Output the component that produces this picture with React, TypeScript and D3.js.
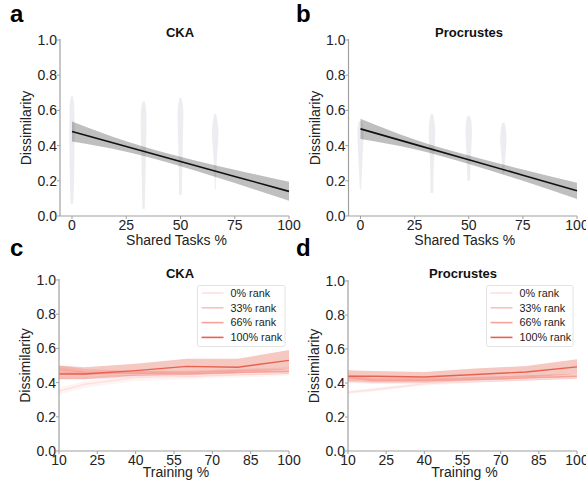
import React from "react";
import * as d3 from "d3";

// ---------- data ----------
const yTicks = [0, 0.2, 0.4, 0.6, 0.8, 1.0];
const sharedTicks = [0, 25, 50, 75, 100];
const trainTicks = [10, 25, 40, 55, 70, 85, 100];

const violinPositions = [0, 33, 50, 66];
// [value, relative density]
const ckaViolins: [number, number][][] = [
  [[0.07, 0.4], [0.2, 0.65], [0.35, 0.75], [0.45, 0.85], [0.55, 0.8], [0.65, 0.6], [0.68, 0.3]],
  [[0.04, 0.35], [0.15, 0.5], [0.3, 0.65], [0.45, 0.85], [0.55, 0.9], [0.62, 0.7], [0.65, 0.35]],
  [[0.12, 0.4], [0.25, 0.55], [0.4, 0.7], [0.55, 0.9], [0.62, 0.8], [0.67, 0.35]],
  [[0.15, 0.15], [0.25, 0.3], [0.35, 0.6], [0.45, 1.0], [0.52, 0.85], [0.58, 0.3]],
];
const procViolins: [number, number][][] = [
  [[0.15, 0.2], [0.25, 0.45], [0.35, 0.7], [0.45, 0.95], [0.5, 0.9], [0.54, 0.5]],
  [[0.13, 0.45], [0.25, 0.5], [0.35, 0.7], [0.45, 1.0], [0.53, 0.85], [0.58, 0.35]],
  [[0.2, 0.4], [0.3, 0.6], [0.4, 0.85], [0.48, 1.0], [0.54, 0.8], [0.57, 0.4]],
  [[0.24, 0.35], [0.3, 0.45], [0.38, 0.8], [0.43, 1.0], [0.49, 0.8], [0.53, 0.4]],
];

const regX = [0, 25, 50, 75, 100];
const ckaReg = [0.48, 0.395, 0.31, 0.225, 0.14];
const ckaRegHalf = [0.057, 0.03, 0.027, 0.038, 0.054];
const procReg = [0.495, 0.407, 0.32, 0.232, 0.143];
const procRegHalf = [0.058, 0.028, 0.024, 0.032, 0.046];

const trainX = [10, 20, 40, 60, 80, 100];
const rankLabels = ["0% rank", "33% rank", "66% rank", "100% rank"];
const rankColors = ["#fde0df", "#f9c2bd", "#f5a29b", "#e6624f"];

const ckaMean = [
  [0.35, 0.39, 0.43, 0.44, 0.45, 0.46],
  [0.44, 0.44, 0.45, 0.45, 0.46, 0.47],
  [0.48, 0.46, 0.455, 0.45, 0.46, 0.465],
  [0.45, 0.45, 0.47, 0.495, 0.49, 0.53],
];
const ckaLo = [
  [0.33, 0.37, 0.41, 0.42, 0.43, 0.44],
  [0.42, 0.42, 0.43, 0.43, 0.44, 0.45],
  [0.46, 0.44, 0.44, 0.435, 0.445, 0.45],
  [0.42, 0.42, 0.44, 0.45, 0.45, 0.48],
];
const ckaHi = [
  [0.37, 0.41, 0.45, 0.46, 0.47, 0.48],
  [0.46, 0.46, 0.47, 0.47, 0.48, 0.49],
  [0.5, 0.48, 0.47, 0.465, 0.475, 0.48],
  [0.5, 0.49, 0.51, 0.54, 0.54, 0.59],
];
const procMean = [
  [0.345, 0.36, 0.395, 0.41, 0.425, 0.435],
  [0.42, 0.41, 0.41, 0.42, 0.43, 0.44],
  [0.43, 0.415, 0.415, 0.42, 0.43, 0.44],
  [0.44, 0.44, 0.435, 0.45, 0.465, 0.495],
];
const procLo = [
  [0.335, 0.35, 0.385, 0.4, 0.415, 0.425],
  [0.4, 0.395, 0.395, 0.405, 0.415, 0.425],
  [0.41, 0.4, 0.4, 0.405, 0.415, 0.425],
  [0.41, 0.41, 0.41, 0.42, 0.43, 0.455],
];
const procHi = [
  [0.355, 0.37, 0.405, 0.42, 0.435, 0.445],
  [0.44, 0.425, 0.425, 0.435, 0.445, 0.455],
  [0.45, 0.43, 0.43, 0.435, 0.445, 0.455],
  [0.475, 0.47, 0.465, 0.485, 0.5, 0.54],
];

// ---------- drawing ----------
const FONT = "'Liberation Sans', Arial, sans-serif";
const AXIS = "#a0a0a0";

type Box = { x0: number; x1: number; y0: number; y1: number };

function Axes({
  box, xs, ys, xTicks, xLabel, title, titleX, titleY, xLabelY,
}: {
  box: Box; xs: d3.ScaleLinear<number, number>; ys: d3.ScaleLinear<number, number>;
  xTicks: number[]; xLabel: string; title: string; titleX: number; titleY: number; xLabelY: number;
}) {
  return (
    <g fontFamily={FONT}>
      <line x1={box.x0} x2={box.x0} y1={box.y0 - 1} y2={box.y1} stroke={AXIS} strokeWidth={1.2} />
      <line x1={box.x0} x2={box.x1} y1={box.y1} y2={box.y1} stroke={AXIS} strokeWidth={1.2} />
      {yTicks.map((t) => (
        <g key={"y" + t}>
          <line x1={box.x0 - 3} x2={box.x0} y1={ys(t)} y2={ys(t)} stroke={AXIS} strokeWidth={1} />
          <text x={box.x0 - 3} y={ys(t) + 5} textAnchor="end" fontSize={14} fill="#222">
            {t.toFixed(1)}
          </text>
        </g>
      ))}
      {xTicks.map((t) => (
        <g key={"x" + t}>
          <line x1={xs(t)} x2={xs(t)} y1={box.y1} y2={box.y1 + 3} stroke={AXIS} strokeWidth={1} />
          <text x={xs(t)} y={box.y1 + 14} textAnchor="middle" fontSize={14} fill="#222">
            {t}
          </text>
        </g>
      ))}
      <text x={(box.x0 + box.x1) / 2 + 2} y={xLabelY} textAnchor="middle" fontSize={14} fill="#222">
        {xLabel}
      </text>
      <text
        transform={`translate(${box.x0 - 29},${(box.y0 + box.y1) / 2}) rotate(-90)`}
        textAnchor="middle"
        fontSize={14}
        fill="#222"
      >
        Dissimilarity
      </text>
      <text x={titleX} y={titleY} textAnchor="middle" fontSize={13} fontWeight="bold" fill="#111">
        {title}
      </text>
    </g>
  );
}

function RegPanel({
  box, violins, reg, half, title, titleX,
}: {
  box: Box; violins: [number, number][][]; reg: number[]; half: number[]; title: string; titleX: number;
}) {
  const xs = d3.scaleLinear().domain([0, 100]).range([box.x0 + 12, box.x1]);
  const ys = d3.scaleLinear().domain([0, 1]).range([box.y1, box.y0]);
  const w = d3.scaleLinear().domain([0, 1]).range([0, 3.2]);
  const band = d3
    .area<number>()
    .x((_, i) => xs(regX[i]))
    .y0((_, i) => ys(reg[i] - half[i]))
    .y1((_, i) => ys(reg[i] + half[i]))
    .curve(d3.curveMonotoneX);
  const line = d3
    .line<number>()
    .x((_, i) => xs(regX[i]))
    .y((d) => ys(d));
  return (
    <g>
      {violins.map((v, k) => {
        const cx = xs(violinPositions[k]);
        const a = d3
          .area<[number, number]>()
          .y((d) => ys(d[0]))
          .x0((d) => cx - w(d[1]))
          .x1((d) => cx + w(d[1]))
          .curve(d3.curveCatmullRom);
        return <path key={k} d={a(v) || ""} fill="#ededf1" />;
      })}
      <path d={band(reg) || ""} fill="#000" fillOpacity={0.25} />
      <path d={line(reg) || ""} fill="none" stroke="#111" strokeWidth={1.6} />
      <Axes
        box={box}
        xs={xs}
        ys={ys}
        xTicks={sharedTicks}
        xLabel="Shared Tasks %"
        title={title}
        titleX={titleX}
        titleY={37}
        xLabelY={245}
      />
    </g>
  );
}

function TrainPanel({
  box, mean, lo, hi, title, titleX, legendX,
}: {
  box: Box; mean: number[][]; lo: number[][]; hi: number[][]; title: string; titleX: number; legendX: number;
}) {
  const xs = d3.scaleLinear().domain([10, 100]).range([box.x0, box.x1]);
  const ys = d3.scaleLinear().domain([0, 1]).range([box.y1, box.y0]);
  const legW = box.x1 - legendX - 4;
  return (
    <g>
      {mean.map((m, k) => {
        const a = d3
          .area<number>()
          .x((_, i) => xs(trainX[i]))
          .y0((_, i) => ys(lo[k][i]))
          .y1((_, i) => ys(hi[k][i]));
        return <path key={"b" + k} d={a(m) || ""} fill={rankColors[k]} fillOpacity={0.35} />;
      })}
      {mean.map((m, k) => {
        const l = d3
          .line<number>()
          .x((_, i) => xs(trainX[i]))
          .y((d) => ys(d));
        return <path key={"l" + k} d={l(m) || ""} fill="none" stroke={rankColors[k]} strokeWidth={1.4} />;
      })}
      <Axes
        box={box}
        xs={xs}
        ys={ys}
        xTicks={trainTicks}
        xLabel="Training %"
        title={title}
        titleX={titleX}
        titleY={278}
        xLabelY={477}
      />
      <g fontFamily={FONT}>
        <rect x={legendX} y={285.5} width={legW} height={61} rx={2} fill="#fff" fillOpacity={0.8} stroke="#e2e2e2" />
        {rankLabels.map((lab, k) => (
          <g key={lab}>
            <line
              x1={legendX + 4}
              x2={legendX + 26}
              y1={293 + k * 14.8}
              y2={293 + k * 14.8}
              stroke={rankColors[k]}
              strokeWidth={1.6}
            />
            <text x={legendX + 33} y={296.8 + k * 14.8} fontSize={10.8} fill="#222">
              {lab}
            </text>
          </g>
        ))}
      </g>
    </g>
  );
}

export default function App() {
  const boxA: Box = { x0: 60, x1: 289, y0: 40, y1: 216 };
  const boxB: Box = { x0: 348.5, x1: 577, y0: 40, y1: 216 };
  const boxC: Box = { x0: 59, x1: 289, y0: 280, y1: 451 };
  const boxD: Box = { x0: 348, x1: 577, y0: 281, y1: 451 };
  return (
    <svg
      width={586}
      height={483}
      style={{ position: "absolute", left: 0, top: 0, background: "#fff" }}
    >
      <RegPanel box={boxA} violins={ckaViolins} reg={ckaReg} half={ckaRegHalf} title="CKA" titleX={180} />
      <RegPanel box={boxB} violins={procViolins} reg={procReg} half={procRegHalf} title="Procrustes" titleX={469} />
      <TrainPanel box={boxC} mean={ckaMean} lo={ckaLo} hi={ckaHi} title="CKA" titleX={180} legendX={197.5} />
      <TrainPanel box={boxD} mean={procMean} lo={procLo} hi={procHi} title="Procrustes" titleX={463} legendX={486.5} />
      <g fontFamily={FONT} fontWeight="bold" fontSize={24} fill="#000">
        <text x={10} y={22}>a</text>
        <text x={296} y={22}>b</text>
        <text x={10} y={256}>c</text>
        <text x={296} y={256}>d</text>
      </g>
    </svg>
  );
}
